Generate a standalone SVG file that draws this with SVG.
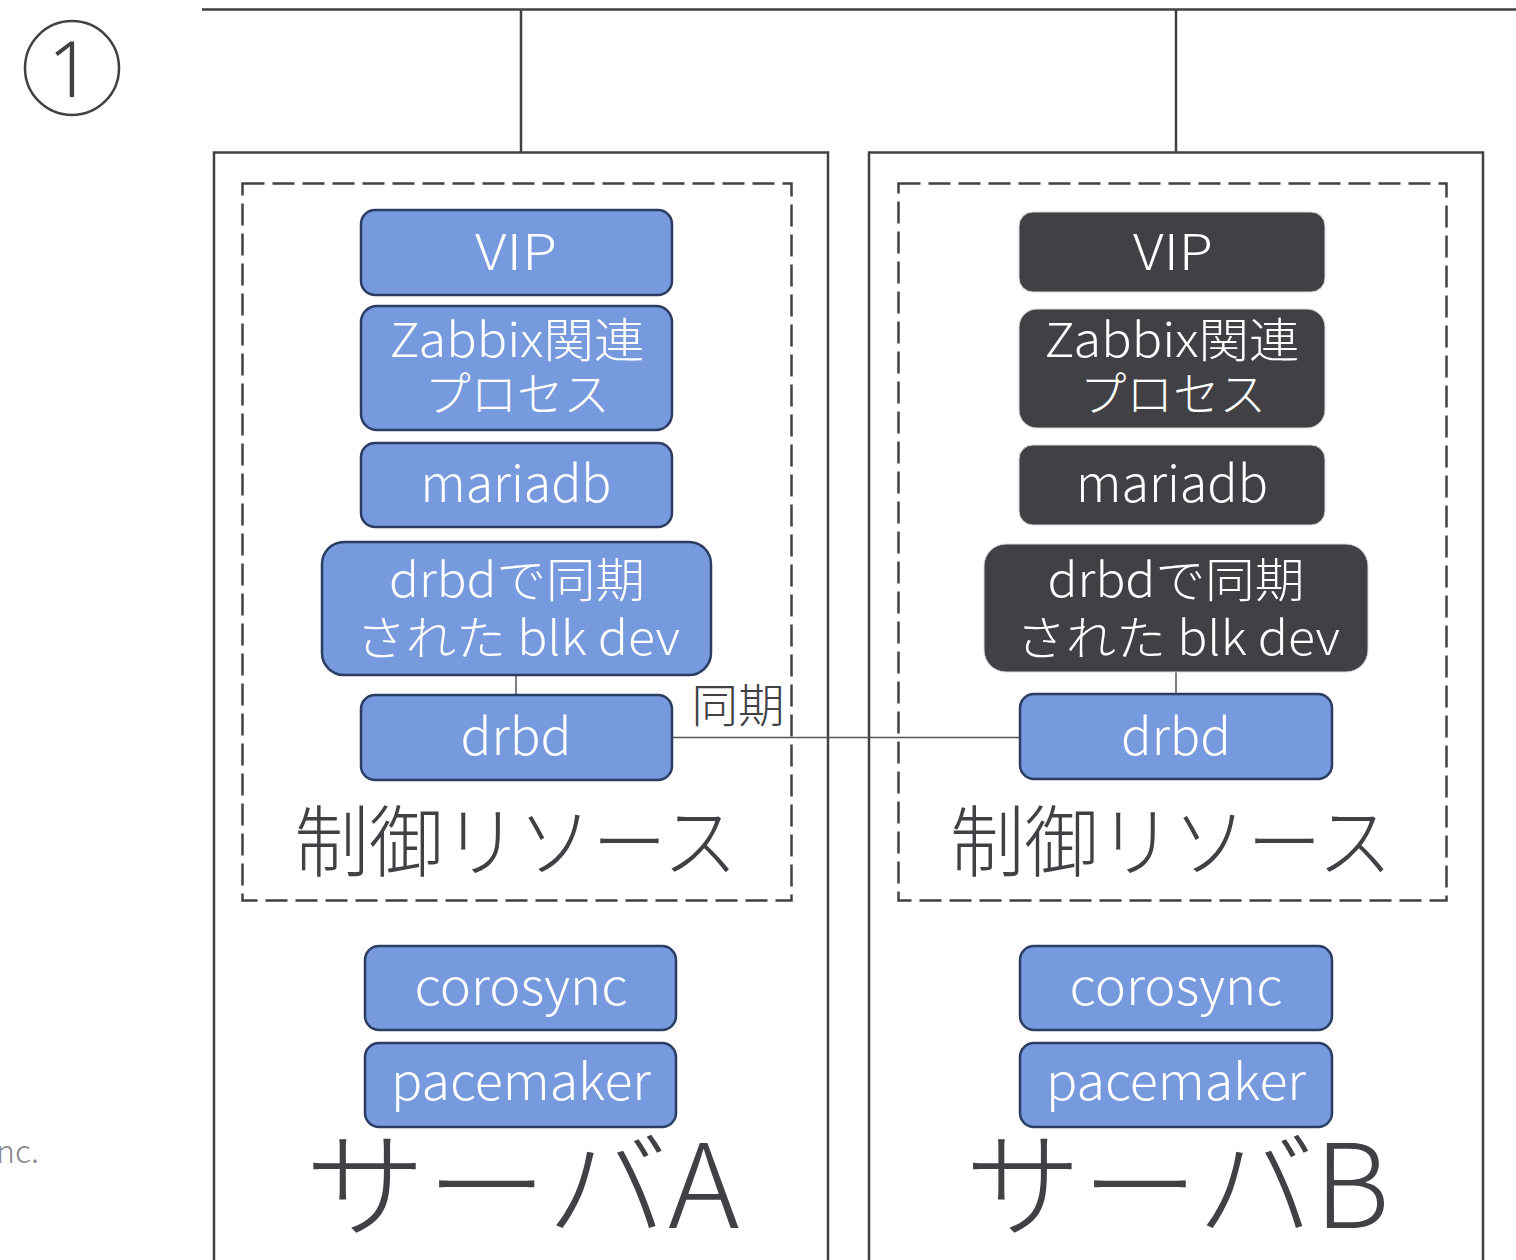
<svg xmlns="http://www.w3.org/2000/svg" width="1516" height="1260" viewBox="0 0 1516 1260">
<style>
text{font-family:"Noto Sans CJK JP","Noto Sans",sans-serif;font-weight:300;text-anchor:middle}
.line{stroke:#404045;stroke-width:2.5;fill:none}
.thin{stroke:#555558;stroke-width:1.5;fill:none}
.server{fill:#ffffff;stroke:#404045;stroke-width:2.5}
.dash{fill:none;stroke:#404045;stroke-width:2.5;stroke-dasharray:22 8}
.blue{fill:#7799dd;stroke:#2c3d63;stroke-width:2.5}
.dark{fill:#404045;stroke:#d8d8da;stroke-width:1}
.wt{fill:#ffffff;font-size:50px}
.wt2{fill:#ffffff;font-size:47px}
.big{fill:#404045;font-size:78px}
.huge{fill:#404045;font-size:116px}
.lbl{fill:#404045;font-size:46px}
</style>
<rect width="1516" height="1260" fill="#ffffff"/>
<g id="marker-1">
<circle cx="72" cy="68" r="47" fill="none" stroke="#404045" stroke-width="2.5"/>
<text x="70" y="97" style="fill:#404045;font-size:78px;font-family:'Noto Sans','Open Sans',sans-serif;font-weight:300">1</text>
</g>
<text x="-4" y="1163" style="fill:#8a8a8e;font-size:32px;text-anchor:start">nc.</text>
<g id="network">
<path class="line" d="M202 9.5H1516M521 9.5V152M1176 9.5V152"/>
</g>
<g id="serverA">
<rect class="server" x="214" y="152.5" width="614" height="1120"/>
<rect class="dash" x="242.5" y="183.5" width="549" height="717"/>
<text class="big" x="516" y="871" textLength="443" lengthAdjust="spacingAndGlyphs">制御リソース</text>
<text class="huge" x="522" y="1228" textLength="435" lengthAdjust="spacingAndGlyphs">サーバA</text>
</g>
<g id="serverB">
<rect class="server" x="869" y="152.5" width="614" height="1120"/>
<rect class="dash" x="898.5" y="183.5" width="548" height="717"/>
<text class="big" x="1171" y="871" textLength="442" lengthAdjust="spacingAndGlyphs">制御リソース</text>
<text class="huge" x="1177" y="1228" textLength="425" lengthAdjust="spacingAndGlyphs">サーバB</text>
</g>
<g id="connectors">
<path class="thin" d="M516 675V695M1176 672V694"/>
<path class="thin" d="M672 737.5H1020"/>
<text class="lbl" x="738" y="722" textLength="93" lengthAdjust="spacingAndGlyphs">同期</text>
</g>
<g id="A-vip"><rect class="blue" x="361" y="210" width="311" height="85" rx="14"/><text class="wt" x="516" y="270" textLength="82" lengthAdjust="spacingAndGlyphs">VIP</text></g>
<g id="A-zabbix"><rect class="blue" x="361" y="306" width="311" height="124" rx="16"/><text class="wt2" x="517" y="357" textLength="255" lengthAdjust="spacingAndGlyphs">Zabbix関連</text><text class="wt2" x="517" y="411" textLength="185" lengthAdjust="spacingAndGlyphs">プロセス</text></g>
<g id="A-mariadb"><rect class="blue" x="361" y="443" width="311" height="84" rx="14"/><text class="wt" x="516" y="502" textLength="191" lengthAdjust="spacingAndGlyphs">mariadb</text></g>
<g id="A-blkdev"><rect class="blue" x="322" y="542" width="389" height="133" rx="22"/><text class="wt2" x="517" y="597" textLength="256" lengthAdjust="spacingAndGlyphs">drbdで同期</text><text class="wt2" x="518" y="655" textLength="324" lengthAdjust="spacingAndGlyphs">された blk dev</text></g>
<g id="A-drbd"><rect class="blue" x="361" y="695" width="311" height="85" rx="14"/><text class="wt" x="516" y="755" textLength="111" lengthAdjust="spacingAndGlyphs">drbd</text></g>
<g id="A-corosync"><rect class="blue" x="365" y="946" width="311" height="84" rx="14"/><text class="wt" x="521" y="1005" textLength="213" lengthAdjust="spacingAndGlyphs">corosync</text></g>
<g id="A-pacemaker"><rect class="blue" x="365" y="1043" width="311" height="84" rx="14"/><text class="wt" x="521" y="1100" textLength="260" lengthAdjust="spacingAndGlyphs">pacemaker</text></g>
<g id="B-vip"><rect class="dark" x="1019" y="212" width="306" height="80" rx="14"/><text class="wt" x="1173" y="270" textLength="80" lengthAdjust="spacingAndGlyphs">VIP</text></g>
<g id="B-zabbix"><rect class="dark" x="1019" y="309" width="306" height="119" rx="18"/><text class="wt2" x="1172" y="357" textLength="255" lengthAdjust="spacingAndGlyphs">Zabbix関連</text><text class="wt2" x="1173" y="411" textLength="186" lengthAdjust="spacingAndGlyphs">プロセス</text></g>
<g id="B-mariadb"><rect class="dark" x="1019" y="445" width="306" height="80" rx="14"/><text class="wt" x="1172" y="502" textLength="192" lengthAdjust="spacingAndGlyphs">mariadb</text></g>
<g id="B-blkdev"><rect class="dark" x="984" y="544" width="384" height="128" rx="22"/><text class="wt2" x="1176" y="597" textLength="257" lengthAdjust="spacingAndGlyphs">drbdで同期</text><text class="wt2" x="1178" y="655" textLength="324" lengthAdjust="spacingAndGlyphs">された blk dev</text></g>
<g id="B-drbd"><rect class="blue" x="1020" y="694" width="312" height="85" rx="14"/><text class="wt" x="1176" y="755" textLength="110" lengthAdjust="spacingAndGlyphs">drbd</text></g>
<g id="B-corosync"><rect class="blue" x="1020" y="946" width="312" height="84" rx="14"/><text class="wt" x="1176" y="1005" textLength="213" lengthAdjust="spacingAndGlyphs">corosync</text></g>
<g id="B-pacemaker"><rect class="blue" x="1020" y="1043" width="312" height="84" rx="14"/><text class="wt" x="1176" y="1100" textLength="260" lengthAdjust="spacingAndGlyphs">pacemaker</text></g>
</svg>
